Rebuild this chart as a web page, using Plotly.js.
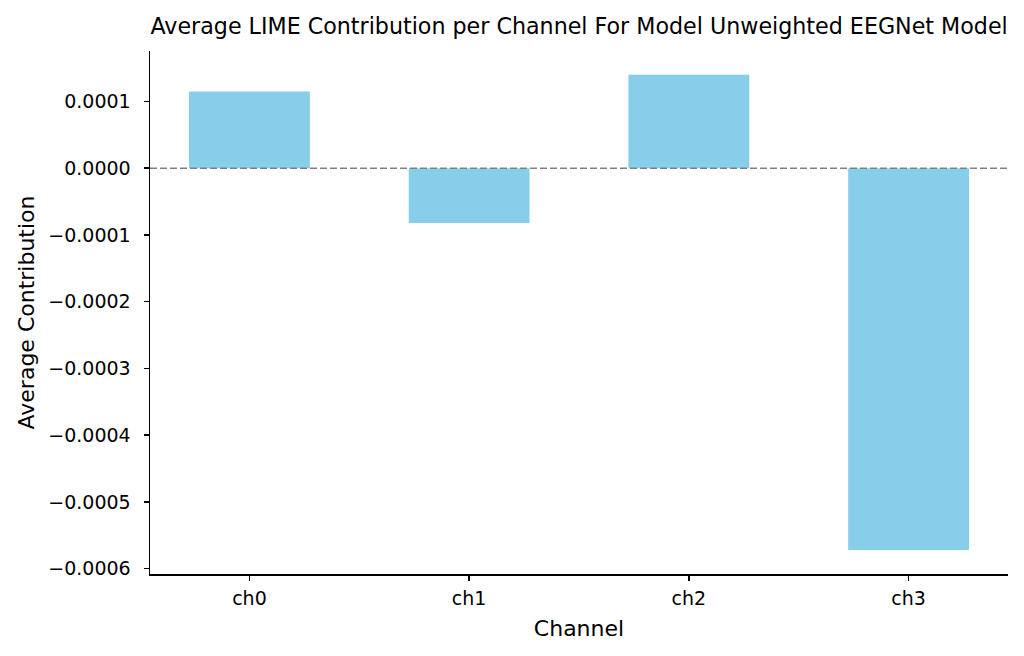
<!DOCTYPE html>
<html>
<head>
<meta charset="utf-8">
<script src="https://cdn.plot.ly/plotly-3.0.1.min.js"></script>
<style>
  html, body { margin: 0; padding: 0; background: #fff; }
  #chart { width: 1024px; height: 656px; }
</style>
</head>
<body>
<div id="chart"></div>
<script>
// average LIME contribution per EEG channel
var channels = ['ch0', 'ch1', 'ch2', 'ch3'];
var contributions = [0.000115, -0.000082, 0.000140, -0.000572];
var yTickVals = [0.0001, 0, -0.0001, -0.0002, -0.0003, -0.0004, -0.0005, -0.0006];
var yTickText = ['0.0001', '0.0000', '\u22120.0001', '\u22120.0002', '\u22120.0003',
                 '\u22120.0004', '\u22120.0005', '\u22120.0006'];

var font = 'DejaVu Sans, sans-serif';

var data = [{
    type: 'bar',
    x: [0, 1, 2, 3],
    y: contributions,
    width: 0.55,
    marker: {color: '#87CEEB', line: {width: 0}},
    hoverinfo: 'skip'
}];

var layout = {
    width: 1024,
    height: 656,
    margin: {l: 150, r: 16, t: 51, b: 82},
    paper_bgcolor: '#ffffff',
    plot_bgcolor: '#ffffff',
    showlegend: false,
    font: {family: font, color: '#000000', size: 19},
    title: {
        text: 'Average LIME Contribution per Channel For Model Unweighted EEGNet Model',
        font: {family: font, size: 22.2, color: '#000000'},
        x: 0.5655, xanchor: 'center',
        y: 0.96, yanchor: 'middle'
    },
    xaxis: {
        range: [-0.4525, 3.4525],
        tickvals: [0, 1, 2, 3],
        ticktext: channels,
        ticks: 'outside', ticklen: 5, tickwidth: 1.5, tickcolor: '#000',
        showline: true, linecolor: '#000', linewidth: 1.5,
        showgrid: false, zeroline: false,
        tickfont: {size: 19},
        ticklabelstandoff: 2,
        title: {text: 'Channel', font: {size: 22}, standoff: 12}
    },
    yaxis: {
        range: [-0.000608, 0.0001756],
        tickvals: yTickVals,
        ticktext: yTickText,
        ticks: 'outside', ticklen: 5, tickwidth: 1.5, tickcolor: '#000',
        showline: true, linecolor: '#000', linewidth: 1.5,
        showgrid: false, zeroline: false,
        tickfont: {size: 19},
        ticklabelstandoff: 9,
        title: {text: 'Average Contribution', font: {size: 22}, standoff: 7}
    },
    shapes: [{
        type: 'line', xref: 'paper', yref: 'y',
        x0: 0, x1: 1, y0: 0, y1: 0,
        line: {color: '#808080', width: 1.5, dash: '7px,3px'},
        layer: 'above'
    }]
};

Plotly.newPlot('chart', data, layout, {staticPlot: true});
</script>
</body>
</html>
